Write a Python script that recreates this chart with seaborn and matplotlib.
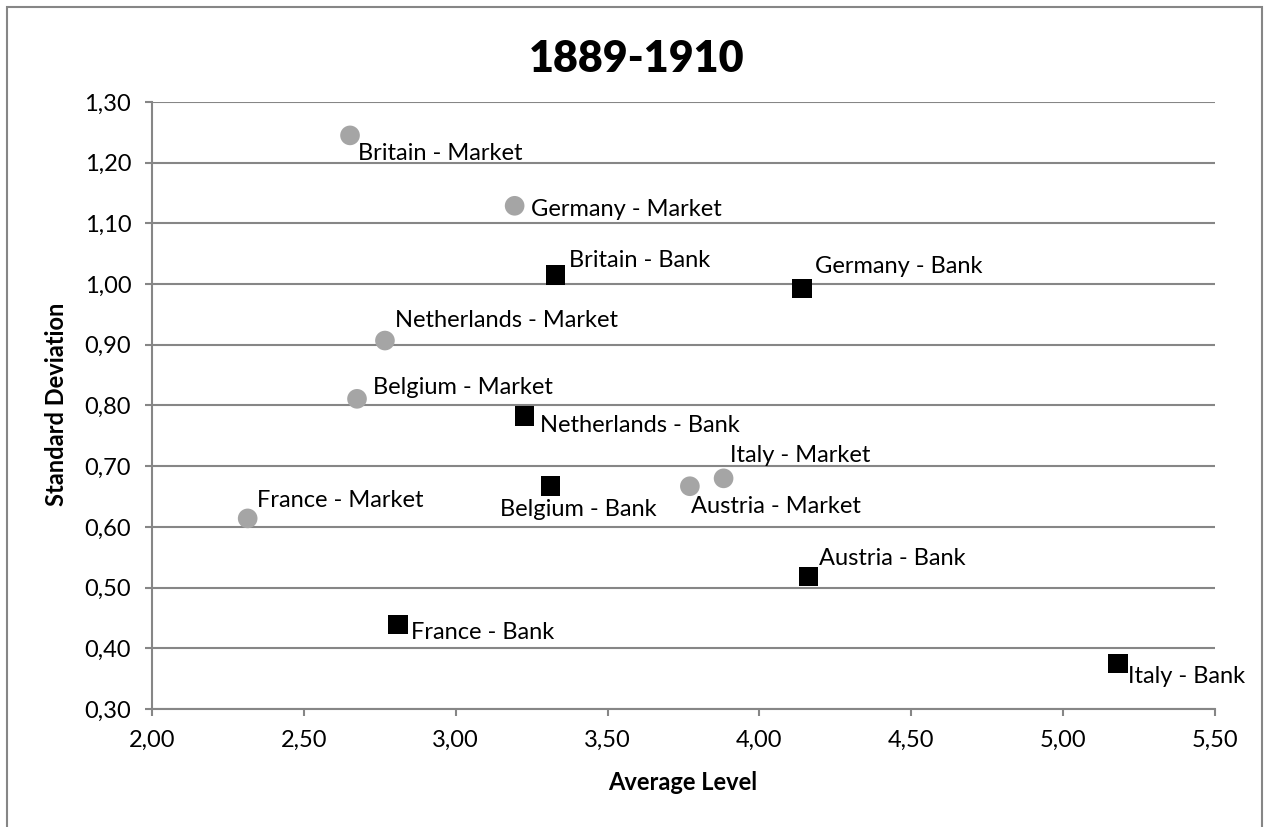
import matplotlib
matplotlib.use("Agg")
import matplotlib.pyplot as plt
from matplotlib.patches import Rectangle
from matplotlib.ticker import FuncFormatter, MultipleLocator
import pandas as pd
import seaborn as sns

# values
countries = ["Britain", "Germany", "Netherlands", "Belgium", "France", "Austria", "Italy",
             "Britain", "Germany", "Netherlands", "Belgium", "France", "Austria", "Italy"]
system = ["Market"] * 7 + ["Bank"] * 7
avg_level = [2.652, 3.194, 2.767, 2.675, 2.315, 3.771, 3.882,
             3.328, 4.140, 3.227, 3.312, 2.809, 4.161, 5.181]
std_dev = [1.245, 1.129, 0.907, 0.811, 0.614, 0.667, 0.680,
           1.015, 0.993, 0.783, 0.667, 0.439, 0.518, 0.375]

df = pd.DataFrame({"country": countries, "system": system,
                   "avg": avg_level, "sd": std_dev})
df["label"] = df["country"] + " - " + df["system"]

# label placement, pixels right / down from the marker
label_offset = {
    "Britain - Market": (8, 18), "Germany - Market": (16, 4),
    "Netherlands - Market": (10, -20), "Belgium - Market": (16, -11),
    "France - Market": (9, -18), "Austria - Market": (1, 20),
    "Italy - Market": (6, -23), "Britain - Bank": (14, -14),
    "Germany - Bank": (13, -22), "Netherlands - Bank": (15, 10),
    "Belgium - Bank": (-50, 23), "France - Bank": (13, 8),
    "Austria - Bank": (11, -18), "Italy - Bank": (10, 13),
}

sns.set_style("white")
plt.rcParams["font.family"] = ["Lato", "DejaVu Sans"]
plt.rcParams["text.color"] = "black"
plt.rcParams["xtick.labelcolor"] = "black"
plt.rcParams["ytick.labelcolor"] = "black"
grey = "#868686"

fig = plt.figure(figsize=(12.68, 8.27), dpi=100)
ax = fig.add_axes([152 / 1268, 1 - 709 / 827, (1215 - 152) / 1268, (709 - 102) / 827])

sns.scatterplot(data=df, x="avg", y="sd", hue="system", style="system",
                palette={"Market": "#a5a5a5", "Bank": "#000000"},
                markers={"Market": "o", "Bank": "s"}, s=200, linewidth=0,
                legend=False, ax=ax, zorder=3)

for _, r in df.iterrows():
    dx, dy = label_offset[r["label"]]
    ax.annotate(r["label"], (r["avg"], r["sd"]), xytext=(dx, -dy),
                textcoords="offset pixels", ha="left", va="center",
                fontsize=17, color="black")

ax.set_xlim(2.0, 5.5)
ax.set_ylim(0.3, 1.3)
ax.xaxis.set_major_locator(MultipleLocator(0.5))
ax.yaxis.set_major_locator(MultipleLocator(0.1))
fmt = FuncFormatter(lambda v, p: f"{v:.2f}".replace(".", ","))
ax.xaxis.set_major_formatter(fmt)
ax.yaxis.set_major_formatter(fmt)
ax.tick_params(axis="both", labelsize=17, length=5, width=1.5, color=grey,
               direction="out", left=True, bottom=True, pad=10)
ax.grid(axis="y", color=grey, linewidth=1.5)
ax.set_axisbelow(True)
for side in ["top", "right"]:
    ax.spines[side].set_visible(False)
for side in ["left", "bottom"]:
    ax.spines[side].set_color(grey)
    ax.spines[side].set_linewidth(1.5)
ax.set_xlabel("")
ax.set_ylabel("")

fig.text(0.502, 1 - 59 / 827, "1889-1910", ha="center", va="center",
         fontsize=31, fontweight="heavy")
fig.text(683 / 1268, 1 - 783 / 827, "Average Level", ha="center", va="center",
         fontsize=17, fontweight="bold")
fig.text(57 / 1268, 1 - 404 / 827, "Standard Deviation", ha="center", va="center",
         rotation=90, fontsize=17, fontweight="bold")

fig.patches.append(Rectangle((7 / 1268, -0.02), (1262 - 7) / 1268, 1.02 - 7 / 827,
                             transform=fig.transFigure, fill=False,
                             edgecolor=grey, linewidth=1.5))

fig.savefig("out.png", dpi=100)
